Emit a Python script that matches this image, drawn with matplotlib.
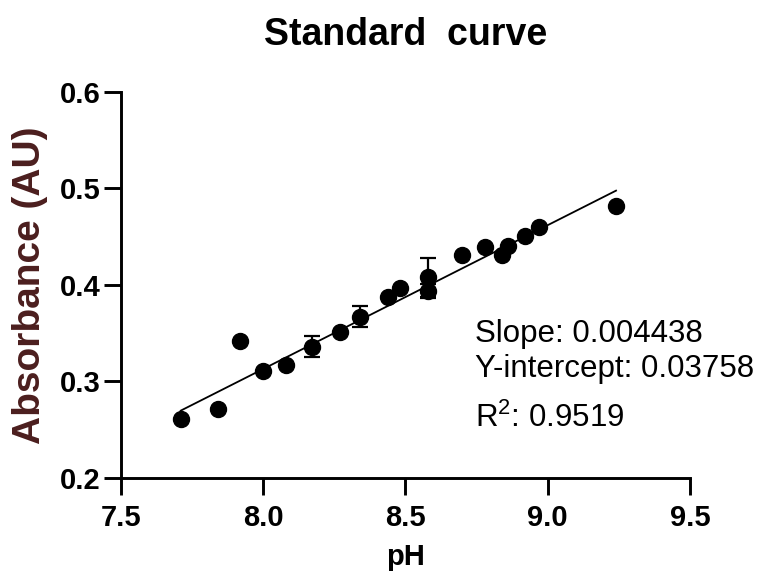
#%% Imports
import numpy as np
import matplotlib.pyplot as plt

plt.rcParams['font.family'] = ['Liberation Sans', 'DejaVu Sans']
plt.rcParams['mathtext.default'] = 'regular'

#%% Data
ph = [7.71, 7.84, 7.92, 8.00, 8.08, 8.17, 8.27, 8.34, 8.44, 8.48,
      8.58, 8.58, 8.70, 8.78, 8.84, 8.86, 8.92, 8.97, 9.24]
absorbance = [0.261, 0.271, 0.342, 0.311, 0.317, 0.336, 0.351, 0.367, 0.388, 0.397,
              0.408, 0.394, 0.431, 0.439, 0.431, 0.440, 0.451, 0.460, 0.482]
abs_err = [0, 0, 0, 0, 0, 0.011, 0, 0.011, 0, 0,
           0.020, 0.007, 0, 0, 0, 0, 0, 0, 0]

fit_slope = 0.149
fit_intercept = -0.879

stats_lines = ['Slope: 0.004438', 'Y-intercept: 0.03758', 'R$^{2}$: 0.9519']
stats_y = [0.341, 0.3047, 0.2529]

x_ticks = [7.5, 8.0, 8.5, 9.0, 9.5]
y_ticks = [0.2, 0.3, 0.4, 0.5, 0.6]

#%% Plot
fig = plt.figure(figsize=(7.6, 5.81), dpi=100)
ax = fig.add_axes([0.1592, 0.1773, 0.7487, 0.6644])

x_fit = np.array([min(ph), max(ph)])
ax.plot(x_fit, fit_slope * x_fit + fit_intercept, color='black', lw=1.3, zorder=2)

err = np.array(abs_err)
ax.errorbar(ph, absorbance, yerr=np.where(err > 0, err, np.nan), fmt='none',
            ecolor='black', elinewidth=1.6, capsize=6, capthick=1.6, zorder=3)
ax.plot(ph, absorbance, 'o', color='black', markersize=11.5, zorder=4)

for line, y in zip(stats_lines, stats_y):
    ax.text(8.744, y, line, fontsize=22.5, va='baseline', ha='left')

ax.set_xlim(7.5, 9.5)
ax.set_ylim(0.2, 0.6)
ax.set_xticks(x_ticks)
ax.set_yticks(y_ticks)
ax.set_xticklabels([f'{t:.1f}' for t in x_ticks], fontweight='bold')
ax.set_yticklabels([f'{t:.1f}' for t in y_ticks], fontweight='bold')
ax.tick_params(axis='both', length=12, width=2.1, labelsize=21)
ax.tick_params(axis='x', pad=7)
ax.tick_params(axis='y', pad=3)

for side in ['top', 'right']:
    ax.spines[side].set_visible(False)
for side in ['left', 'bottom']:
    ax.spines[side].set_linewidth(2.1)

ax.set_title('Standard  curve', fontsize=27, fontweight='bold', pad=34)
ax.set_xlabel('pH', fontsize=21, fontweight='bold', labelpad=8)
ax.set_ylabel('Absorbance (AU)', fontsize=28, fontweight='bold', color='#4B1E1E', labelpad=8)

fig.savefig('out.png', dpi=100)
